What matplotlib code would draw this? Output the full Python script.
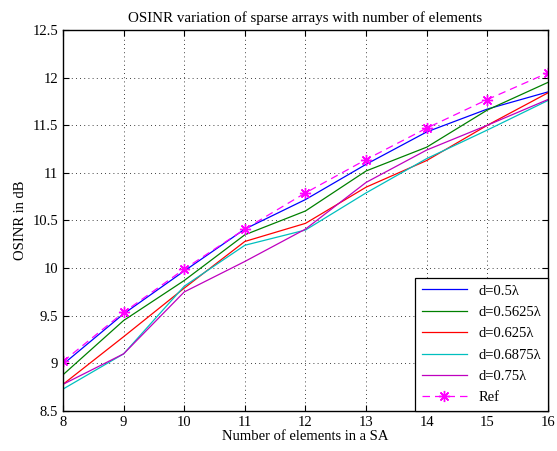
import matplotlib.pyplot as plt

plt.rcParams['font.family'] = ['Liberation Serif', 'DejaVu Serif']

# number of elements in the sparse array
n = [8, 9, 10, 11, 12, 13, 14, 15, 16]

# OSINR (dB) for each element spacing
d050 = [8.99, 9.52, 9.97, 10.41, 10.72, 11.09, 11.43, 11.67, 11.85]
d05625 = [8.88, 9.45, 9.87, 10.35, 10.60, 11.02, 11.27, 11.66, 11.95]
d0625 = [8.78, 9.28, 9.79, 10.28, 10.47, 10.85, 11.13, 11.50, 11.84]
d06875 = [8.73, 9.10, 9.81, 10.24, 10.40, 10.79, 11.15, 11.45, 11.76]
d075 = [8.78, 9.10, 9.75, 10.07, 10.41, 10.90, 11.24, 11.50, 11.77]
ref = [9.02, 9.535, 9.99, 10.41, 10.79, 11.14, 11.47, 11.77, 12.05]

fig = plt.figure(figsize=(5.57, 4.51), dpi=100)
ax = fig.add_axes([0.1131, 0.0887, 0.8707, 0.8448])

ax.plot(n, d050, color='#0000ff', lw=0.9, label='d=0.5λ')
ax.plot(n, d05625, color='#008000', lw=0.9, label='d=0.5625λ')
ax.plot(n, d0625, color='#ff0000', lw=0.9, label='d=0.625λ')
ax.plot(n, d06875, color='#00bfbf', lw=0.9, label='d=0.6875λ')
ax.plot(n, d075, color='#bf00bf', lw=0.9, label='d=0.75λ')
# MATLAB-style asterisk marker
ax.plot(n, ref, color='#ff00ff', lw=0.9, ls=(0, (6, 4)), marker=(8, 2, 0),
        markersize=8, markeredgewidth=1.0, label='Ref')

ax.set_xlim(8, 16)
ax.set_ylim(8.5, 12.5)
ax.set_xticks(n)
ax.set_yticks([8.5, 9, 9.5, 10, 10.5, 11, 11.5, 12, 12.5])
ax.set_yticklabels(['8.5', '9', '9.5', '10', '10.5', '11', '11.5', '12', '12.5'])
ax.tick_params(direction='in', top=True, right=True, labelsize=10.5, length=4)
ax.grid(True, color='black', ls=(0, (1, 4)), lw=0.6)
for s in ax.spines.values():
    s.set_linewidth(1.0)

ax.set_title('OSINR variation of sparse arrays with number of elements', fontsize=10.8)
ax.set_xlabel('Number of elements in a SA', fontsize=10.5, labelpad=1)
ax.set_ylabel('OSINR in dB', fontsize=10.5)

leg = ax.legend(loc='lower right', fontsize=10.5, fancybox=False, framealpha=1,
                edgecolor='black', borderaxespad=0, handlelength=3.1,
                labelspacing=0.56, borderpad=0.45)
leg.get_frame().set_linewidth(0.9)

plt.savefig('out.png', dpi=100)
